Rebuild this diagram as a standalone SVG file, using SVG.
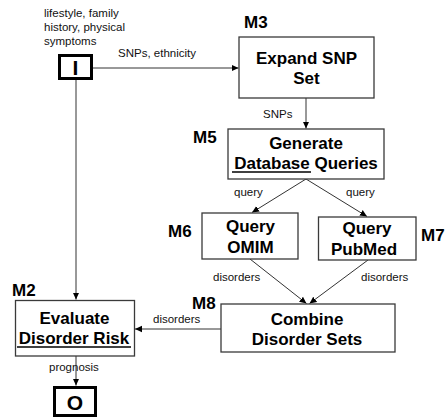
<svg xmlns="http://www.w3.org/2000/svg" width="446" height="418" viewBox="0 0 446 418">
<style>
  .box { fill: #ffffff; stroke: #3a3a3a; stroke-width: 1.3; }
  .io { fill: #ffffff; stroke: #000000; stroke-width: 3; }
  .t { font-family: "Liberation Sans", Arial, sans-serif; font-weight: bold; font-size: 17px; fill: #000; text-anchor: middle; }
  .m { font-family: "Liberation Sans", Arial, sans-serif; font-weight: bold; font-size: 17px; fill: #000; }
  .s { font-family: "Liberation Sans", Arial, sans-serif; font-size: 11.5px; fill: #111; }
  .big { font-family: "Liberation Sans", Arial, sans-serif; font-weight: bold; font-size: 21px; fill: #000; text-anchor: middle; }
  .c { fill: none; stroke: #333; stroke-width: 1; marker-end: url(#ah); }
</style>
<defs>
  <marker id="ah" markerWidth="8" markerHeight="8" refX="7" refY="4" orient="auto" markerUnits="userSpaceOnUse">
    <path d="M0,0.8 L7,4 L0,7.2 Z" fill="#000"/>
  </marker>
</defs>
<rect width="446" height="418" fill="#ffffff"/>

<g id="connectors">
  <line class="c" x1="93" y1="68" x2="238.5" y2="68"/>
  <line class="c" x1="76" y1="80" x2="76" y2="299.5"/>
  <line class="c" x1="306" y1="98" x2="306" y2="128.5"/>
  <line class="c" x1="306" y1="179" x2="252" y2="212.5"/>
  <line class="c" x1="306" y1="179" x2="367" y2="216.5"/>
  <line class="c" x1="250" y1="259" x2="306.5" y2="303.5"/>
  <line class="c" x1="368" y1="260" x2="309.5" y2="303.5"/>
  <line class="c" x1="221" y1="329" x2="135" y2="329"/>
  <line class="c" x1="76" y1="356" x2="76" y2="385.5"/>
  <text class="s" x="118" y="57">SNPs, ethnicity</text>
  <text class="s" x="263" y="118">SNPs</text>
  <text class="s" x="234" y="196">query</text>
  <text class="s" x="346" y="196">query</text>
  <text class="s" x="213" y="281">disorders</text>
  <text class="s" x="361" y="281">disorders</text>
  <text class="s" x="153" y="323">disorders</text>
  <text class="s" x="49" y="371">prognosis</text>
</g>

<g id="I">
  <text class="s" x="44" y="16.5">lifestyle, family</text>
  <text class="s" x="44" y="30.5">history, physical</text>
  <text class="s" x="44" y="44.5">symptoms</text>
  <rect class="io" x="59.5" y="55.5" width="32" height="23"/>
  <text class="big" x="75.5" y="75">I</text>
</g>

<g id="M3">
  <text class="m" x="244" y="28">M3</text>
  <rect class="box" x="239" y="37" width="135" height="61"/>
  <text class="t" x="306.5" y="64">Expand SNP</text>
  <text class="t" x="306.5" y="83.5">Set</text>
</g>

<g id="M5">
  <text class="m" x="193" y="143">M5</text>
  <rect class="box" x="228" y="129" width="156" height="50"/>
  <text class="t" x="306" y="149">Generate</text>
  <text class="t" x="306" y="169">Database Queries</text>
  <line x1="232" y1="172" x2="311" y2="172" stroke="#000" stroke-width="1.5"/>
</g>

<g id="M6">
  <text class="m" x="168" y="237">M6</text>
  <rect class="box" x="202" y="213" width="96" height="46"/>
  <text class="t" x="250.5" y="232">Query</text>
  <text class="t" x="250.5" y="253">OMIM</text>
</g>

<g id="M7">
  <text class="m" x="421" y="241">M7</text>
  <rect class="box" x="318.5" y="217" width="97.5" height="43"/>
  <text class="t" x="367" y="234">Query</text>
  <text class="t" x="364" y="255">PubMed</text>
</g>

<g id="M8">
  <text class="m" x="192" y="309">M8</text>
  <rect class="box" x="221" y="304" width="174" height="48"/>
  <text class="t" x="307" y="325">Combine</text>
  <text class="t" x="307" y="345">Disorder Sets</text>
</g>

<g id="M2">
  <text class="m" x="12" y="296">M2</text>
  <rect class="box" x="15.5" y="300.5" width="119" height="55.5"/>
  <text class="t" x="74.5" y="324">Evaluate</text>
  <text class="t" x="74" y="344">Disorder Risk</text>
  <line x1="17" y1="347" x2="131" y2="347" stroke="#000" stroke-width="1.5"/>
</g>

<g id="O">
  <rect class="io" x="54.5" y="387.5" width="41" height="28"/>
  <text class="big" x="75" y="410">O</text>
</g>
</svg>
